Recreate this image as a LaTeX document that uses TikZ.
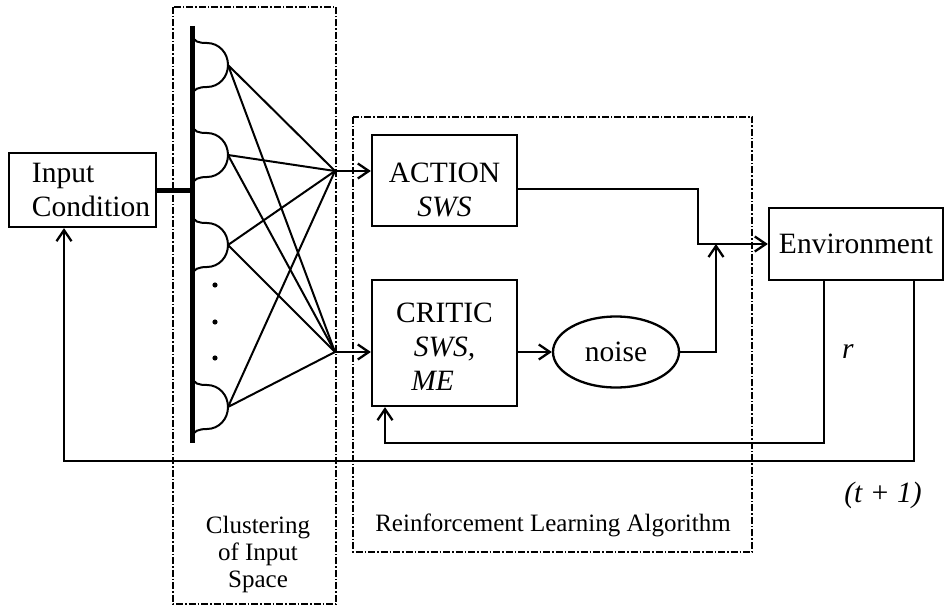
\documentclass[tikz,border=0pt]{standalone}
\usepackage{fontspec}
\setmainfont{Liberation Serif}
\usetikzlibrary{arrows.meta,shapes.geometric}
\begin{document}
\begin{tikzpicture}[x=1pt, y=-1pt, line width=2.3pt,
    font=\fontsize{29.5}{34}\selectfont,
    >={Straight Barb[length=11pt,width=15pt]},
    block/.style={draw, rectangle, inner sep=0pt},
    region/.style={draw, line width=1.1pt, dash pattern=on 7pt off 2pt on 1.5pt off 2pt},
    small/.style={font=\fontsize{25}{27}\selectfont, align=center}]
  \useasboundingbox (0, 0) rectangle (948, 607);

  \draw [region] (173, 7) rectangle (336, 604);
  \draw [region] (353, 117) rectangle (752, 552);
  \node [small] (clus) at (258, 554) {Clustering\\of Input\\Space};
  \node [small] (rla) at (553, 525) {Reinforcement Learning Algorithm};

  \node [block, minimum width=147, minimum height=74, align=left] (input) at (82.5, 190)
    {\hspace*{17pt}Input\\\hspace*{17pt}Condition};
  \node [block, minimum width=145, minimum height=91, align=center] (action) at (444.5, 180.5)
    {\rule{0pt}{38pt}ACTION\\\textit{SWS}};
  \node [block, minimum width=145, minimum height=126, align=center] (critic) at (444.5, 343)
    {\rule{0pt}{32pt}CRITIC\\\textit{SWS,}\\\textit{ME}\phantom{S,}};
  \node [draw, ellipse, minimum width=126, minimum height=71, inner sep=0pt] (noise) at (616, 352) {noise};
  \node [block, minimum width=174, minimum height=72] (env) at (856, 244) {Environment};

  \coordinate (bartop) at (192, 26);
  \coordinate (barbot) at (192, 443);
  \coordinate (ja) at (335, 171);
  \coordinate (jc) at (335, 352);
  \draw [line width=5pt] (bartop) -- (barbot);
  \draw [line width=5pt] (input.east) -- (input.east -| bartop);

  \foreach \c [count=\i] in {65, 155, 245, 407} {
    \draw [line width=2pt] (192, \c-31) .. controls (193, \c-23) and (199, \c-22) .. (207, \c-22)
      .. controls (219, \c-22) and (228, \c-12) .. (228, \c)
      .. controls (228, \c+12) and (219, \c+22) .. (207, \c+22)
      .. controls (199, \c+22) and (193, \c+24) .. (192, \c+30);
    \coordinate (b\i) at (228, \c);
    \draw [line width=2pt] (b\i) -- (ja) (b\i) -- (jc);
  }
  \foreach \y in {285, 322, 358}
    \fill (215, \y) circle (2.6);

  \coordinate (knee) at (698, 244);
  \coordinate (sum) at (716, 244);
  \coordinate (rdrop) at (824, 443);
  \coordinate (tdrop) at (914, 461);

  \draw [->] (ja) -- (ja -| action.west);
  \draw [->] (jc) -- (jc -| critic.west);
  \draw [->] (noise.west -| critic.east) -- (noise.west);
  \draw [->] ([yshift=-8.5pt]action.east) -| (knee) -- (env.west);
  \draw [->] (noise.east) -| (sum);
  \draw [->] (env.south -| rdrop) -- (rdrop) -| ([xshift=-59.5pt]critic.south);
  \draw [->] (env.south -| tdrop) -- (tdrop) -| ([xshift=-18.5pt]input.south);

  \node (rlab) at (848, 352) {\textit{r}};
  \node (tlab) at (883, 495) {\textit{(t + 1)}};
\end{tikzpicture}
\end{document}
